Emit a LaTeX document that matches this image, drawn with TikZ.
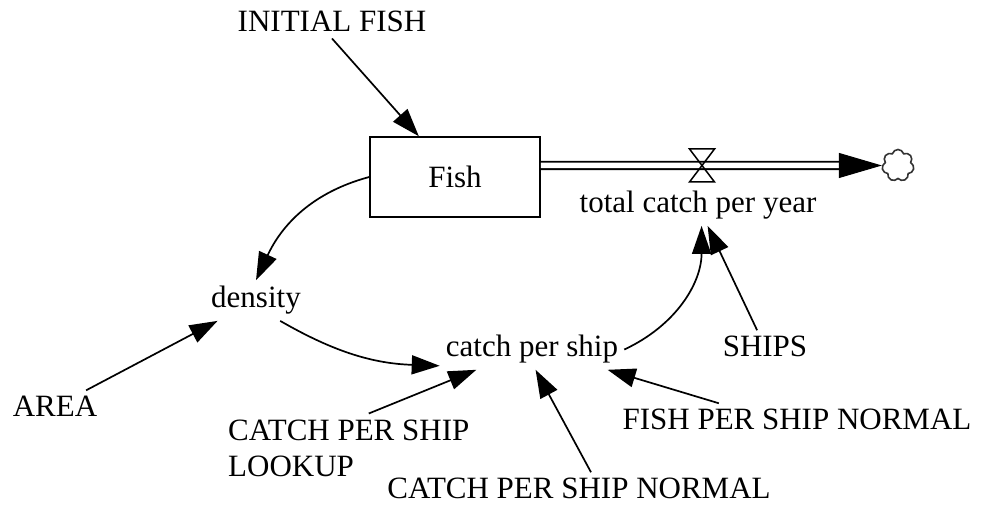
\documentclass[tikz,border=0pt]{standalone}
\usepackage{fontspec}
\setmainfont{Liberation Serif}
\usetikzlibrary{arrows.meta, shapes.symbols}

\begin{document}
\begin{tikzpicture}[
        x=1pt, y=1pt,
        font=\fontsize{31}{36}\selectfont,
        var/.style={inner sep=6pt, anchor=base},
        stock/.style={draw, line width=1.5pt, minimum width=170pt,
                      minimum height=80pt, inner sep=0pt},
        link/.style={-{Triangle[length=28pt,width=19pt]}, line width=1.7pt},
        pipe/.style={double, line width=1.8pt, double distance=5.5pt},
        sink/.style={cloud, cloud puffs=7, aspect=1, draw=black!80,
                     line width=1.6pt, minimum size=32pt, inner sep=0pt}
    ]
    \fill[white] (0,0) rectangle (986,504);

    \node[var] (initfish) at (332,472) {INITIAL FISH};
    \node[stock] (fish) at (455,327) {Fish};
    \node[sink] (sink) at (898,338.5) {};
    \coordinate (valve) at (702,338.5);
    \node[var] (total) at (698,291) {total catch per year};
    \node[var] (density) at (256,196) {density};
    \node[var] (area) at (55,87) {AREA};
    \node[var] (catch) at (532,147) {catch per ship};
    \node[var] (ships) at (765,147) {SHIPS};
    \node[var] (fpsn) at (797,74) {FISH PER SHIP NORMAL};
    \node[var, anchor=north west, align=left] (lookup) at (222,90.5) {CATCH PER SHIP\\LOOKUP};
    \node[var] (cpsn) at (579,5) {CATCH PER SHIP NORMAL};

    % flow
    \draw[pipe] ([yshift=11.5pt]fish.east) -- ([xshift=-40pt]sink.west);
    \draw[-{Triangle[length=43pt,width=25pt]}, line width=1pt] ([xshift=-43pt]sink.west) -- (sink.west);
    \draw[line width=1.5pt] ([shift={(-12.5,16.5)}]valve) -- ++(25,0) -- ++(-25,-33) -- ++(25,0) -- cycle;

    % links
    \draw[link] (initfish.south) -- (fish);
    \draw[link] (fish.west) to[out=195, in=65] (density.north);
    \draw[link] (area) -- (density);
    \draw[link] (density.-40) to[out=-30, in=178] (catch.190);
    \draw[link] ([xshift=20pt]lookup.north) -- (catch.200);
    \draw[link] ([xshift=12pt]cpsn.north) -- (catch.-80);
    \draw[link] (fpsn.168) -- (catch.-15);
    \draw[link] (ships) -- (total);
    \draw[link] (catch.east) to[out=25, in=-90] (total.-80);
\end{tikzpicture}
\end{document}
